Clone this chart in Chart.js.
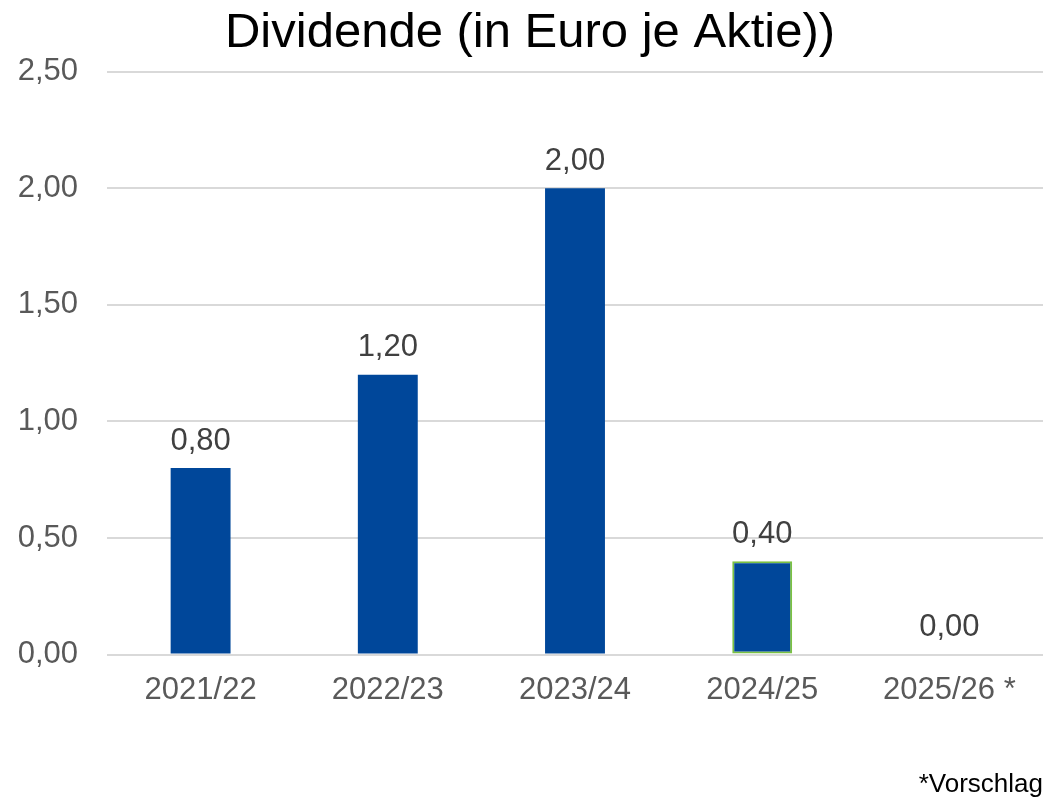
<!DOCTYPE html>
<html>
<head>
<meta charset="utf-8">
<script src="https://cdn.jsdelivr.net/npm/chart.js@4"></script>
<style>
	html, body { margin: 0; padding: 0; background: #fff; }
	#wrap { width: 1043px; height: 802px; }
</style>
</head>
<body>
<div id="wrap"><canvas id="dividend-chart" width="1043" height="802"></canvas></div>
<script>
const categories = [ '2021/22', '2022/23', '2023/24', '2024/25', '2025/26 *' ];
const dividends = [ 0.80, 1.20, 2.00, 0.40, 0.00 ];
const yTicks = [ 0, 0.5, 1, 1.5, 2, 2.5 ];

const fmt = ( v ) => v.toFixed( 2 ).replace( '.', ',' );
const font = 'Liberation Sans, Arial, sans-serif';

// Value labels above each bar.
const valueLabels = {
	id: 'valueLabels',
	afterDatasetsDraw( chart ) {
		const ctx = chart.ctx;
		const meta = chart.getDatasetMeta( 0 );
		ctx.save();
		ctx.font = `31px ${ font }`;
		ctx.fillStyle = '#404040';
		ctx.textAlign = 'center';
		ctx.textBaseline = 'middle';
		meta.data.forEach( ( bar, i ) => {
			ctx.fillText( fmt( dividends[ i ] ), bar.x, bar.y - 27 );
		} );
		ctx.restore();
	},
};

new Chart( document.getElementById( 'dividend-chart' ), {
	type: 'bar',
	data: {
		labels: categories,
		datasets: [
			{
				data: dividends,
				backgroundColor: '#00479a',
				borderColor: [ '#00479a', '#00479a', '#00479a', '#7ac143', '#00479a' ],
				borderWidth: [ 0, 0, 0, 2, 0 ],
				borderSkipped: false,
				barPercentage: 0.32,
				categoryPercentage: 1,
			}
		],
	},
	options: {
		responsive: false,
		animation: false,
		layout: {
			padding: { left: 17, right: 0, top: 0, bottom: 0 },
		},
		plugins: {
			legend: { display: false },
			tooltip: { enabled: false },
			title: {
				display: true,
				text: 'Dividende (in Euro je Aktie))',
				color: '#000',
				font: { family: font, size: 49, weight: 'normal' },
				padding: { top: 4, bottom: 9 },
			},
			subtitle: {
				display: true,
				position: 'bottom',
				align: 'end',
				text: '*Vorschlag',
				color: '#000',
				font: { family: font, size: 26, weight: 'normal' },
				padding: { top: 43, bottom: 2 },
			},
		},
		scales: {
			x: {
				grid: { display: false, drawTicks: false },
				border: { display: false },
				ticks: {
					color: '#595959',
					font: { family: font, size: 31 },
					padding: 17,
				},
			},
			y: {
				min: 0,
				max: 2.5,
				afterBuildTicks( scale ) {
					scale.ticks = yTicks.map( ( v ) => ( { value: v } ) );
				},
				afterFit( scale ) {
					scale.width = 90;
				},
				grid: { color: '#d9d9d9', lineWidth: 2, drawTicks: false },
				border: { display: false },
				ticks: {
					color: '#595959',
					font: { family: font, size: 31 },
					padding: 29,
					callback: ( v ) => fmt( v ),
				},
			},
		},
	},
	plugins: [ valueLabels ],
} );
</script>
</body>
</html>
